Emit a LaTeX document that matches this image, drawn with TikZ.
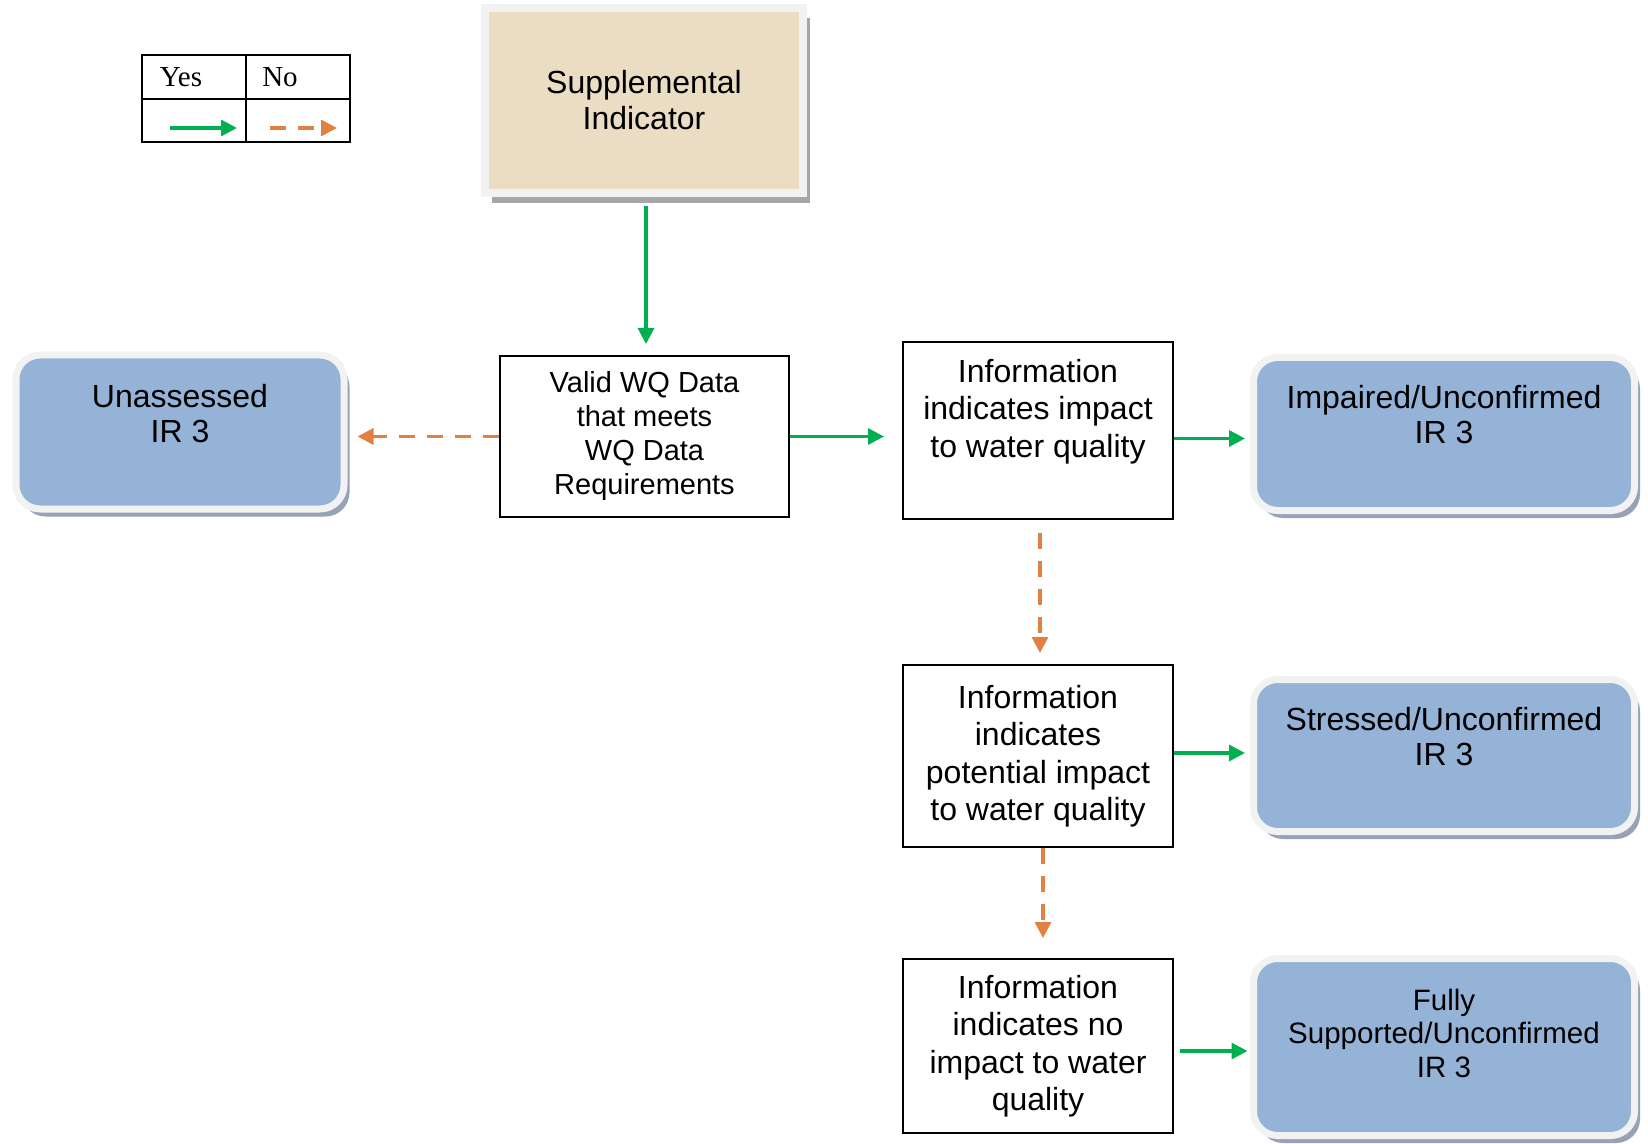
\documentclass[tikz,border=0pt]{standalone}
\usepackage{fontspec}
\setmainfont{Liberation Sans}
\newfontfamily\legendfont{Liberation Serif}
\usetikzlibrary{arrows.meta,shadows}

\definecolor{supfill}{RGB}{234,221,195}
\definecolor{framegrey}{RGB}{242,242,242}
\definecolor{shadowgrey}{RGB}{166,166,166}
\definecolor{outfill}{RGB}{149,179,215}
\definecolor{outshadow}{RGB}{150,162,182}
\definecolor{yesgreen}{RGB}{0,176,80}
\definecolor{noorange}{RGB}{226,128,66}

\tikzset{
  box/.style={draw, line width=1pt, minimum width=135pt, inner sep=0pt,
    align=center, font=\fontsize{16}{18.75}\selectfont},
  supbox/.style={draw=framegrey, line width=4pt, fill=supfill,
    minimum width=159pt, minimum height=92.5pt, align=center,
    font=\fontsize{16}{18}\selectfont,
    drop shadow={shadow xshift=3.3pt, shadow yshift=-5pt, fill=shadowgrey, opacity=1}},
  outcome/.style={draw=framegrey, line width=3.5pt, fill=outfill,
    rounded corners=12pt, minimum width=190.5pt,
    drop shadow={shadow xshift=2.75pt, shadow yshift=-3.75pt, fill=outshadow, opacity=1}},
  outtext/.style={align=center, font=\fontsize{16}{17.5}\selectfont},
  legtext/.style={font=\legendfont\fontsize{14.5}{16}\selectfont},
  yesline/.style={draw=yesgreen, line width=1.6pt,
    -{Triangle[length=8pt,width=8pt]}},
  noline/.style={draw=noorange, line width=1.6pt, dash pattern=on 8pt off 6pt,
    -{Triangle[length=8pt,width=8pt]}}
}

\begin{document}
\begin{tikzpicture}[x=0.5pt,y=-0.5pt]
    \useasboundingbox (0,0) rectangle (1648,1144);

    % legenda
    \draw[line width=1.2pt] (142,55) rectangle (350,142);
    \draw[line width=1.2pt] (246,55) -- (246,142);
    \draw[line width=1.2pt] (142,99) -- (350,99);
    \node[legtext] (lyes) at (181,77) {Yes};
    \node[legtext] (lno) at (280,77) {No};
    \coordinate (ys) at (170,128);
    \coordinate (ye) at (237,128);
    \coordinate (ns) at (270,128);
    \coordinate (ne) at (337,128);
    \draw[yesline] (ys) -- (ye);
    \draw[noline] (ns) -- (ne);

    % blocchi
    \node[supbox] (sup) at (644,100.5) {Supplemental\\Indicator};
    \node[box, minimum width=144.5pt, minimum height=80.5pt,
      font=\fontsize{14.5}{17}\selectfont] (valid) at (644.5,436.5)
      {Valid WQ Data\\that meets\\WQ Data\\Requirements};
    \node[box, minimum height=88.5pt,
      label={[align=center, font=\fontsize{16}{18.75}\selectfont, yshift=9.5pt]center:Information\\indicates impact\\to water quality}]
      (info1) at (1038,430.5) {};
    \node[box, minimum height=91pt] (info2) at (1038,756)
      {Information\\indicates\\potential impact\\to water quality};
    \node[box, minimum height=87pt] (info3) at (1038,1046)
      {Information\\indicates no\\impact to water\\quality};

    % esiti
    \node[outcome, minimum width=164pt, minimum height=77pt,
      label={[outtext, yshift=9pt]center:Unassessed\\IR 3}] (unass) at (180,432) {};
    \node[outcome, minimum height=76.5pt,
      label={[outtext, yshift=9.75pt]center:Impaired/Unconfirmed\\IR 3}] (impair) at (1444,434) {};
    \node[outcome, minimum height=76pt,
      label={[outtext, yshift=9.4pt]center:Stressed/Unconfirmed\\IR 3}] (stress) at (1444,755.5) {};
    \node[outcome, minimum height=88.5pt,
      label={[outtext, font=\fontsize{14.75}{16.75}\selectfont, yshift=7pt]center:Fully\\Supported/Unconfirmed\\IR 3}] (fully) at (1444,1047) {};

    % frecce
    \draw[yesline, shorten <=4.5pt, shorten >=5.5pt] ([xshift=1pt]sup.south) -- ([xshift=1pt]sup.south |- valid.north);
    \draw[noline, shorten >=5pt] (valid.west) -- (valid.west -| unass.east);
    \draw[yesline, shorten >=9pt] (valid.east) -- (valid.east -| info1.west);
    \draw[yesline, shorten >=2.5pt] ([yshift=-4pt]info1.east) -- ([yshift=-4pt]info1.east -| impair.west);
    \draw[noline, shorten <=6.5pt, shorten >=5.5pt] ([xshift=1pt]info1.south) -- ([xshift=1pt]info2.north);
    \draw[yesline, shorten >=2.5pt] ([yshift=1.5pt]info2.east) -- ([yshift=1.5pt]info2.east -| stress.west);
    \draw[noline, shorten >=10pt] ([xshift=2.5pt]info2.south) -- ([xshift=2.5pt]info3.north);
    \draw[yesline, shorten <=3pt, shorten >=1.25pt] ([yshift=-2.5pt]info3.east) -- ([yshift=-2.5pt]info3.east -| fully.west);
\end{tikzpicture}
\end{document}
